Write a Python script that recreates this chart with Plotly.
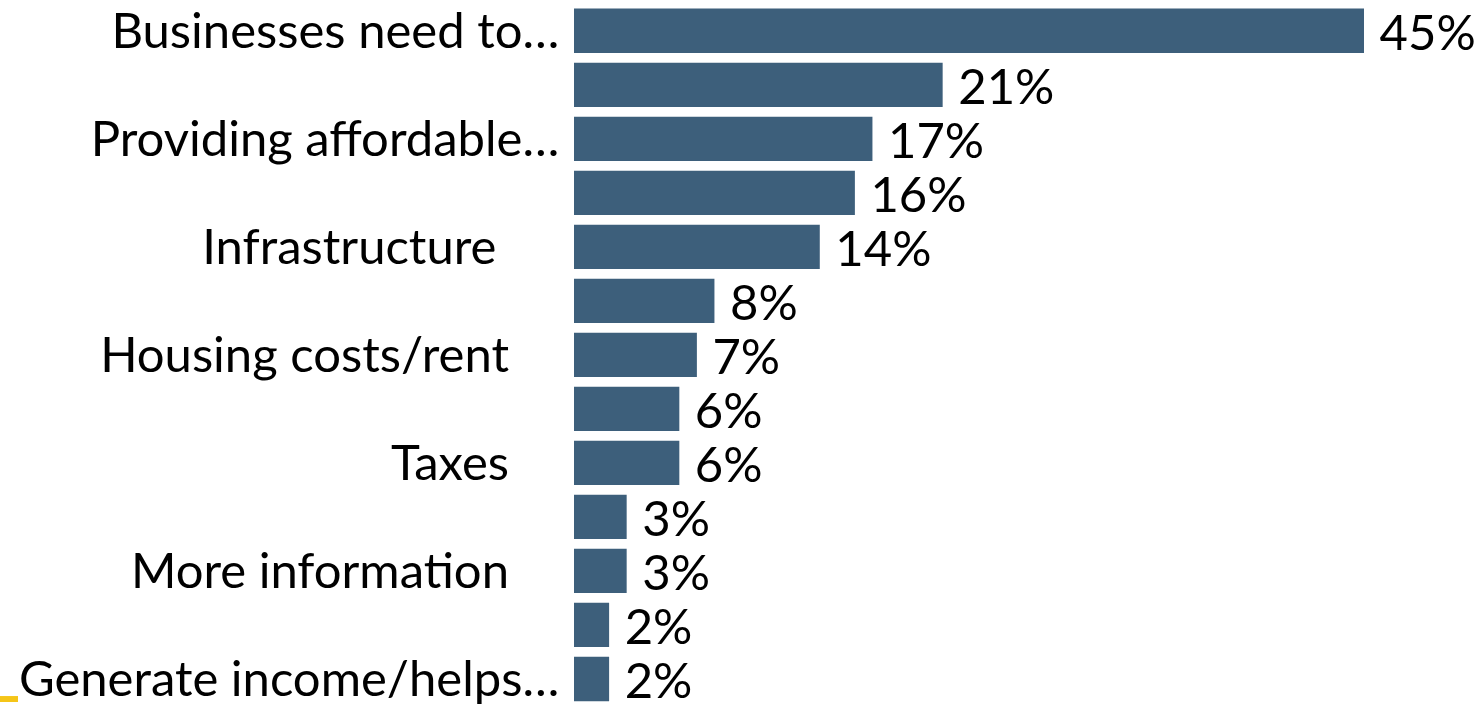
import plotly.graph_objects as go

labels = ["Businesses need to…", "", "Providing affordable…", "", "Infrastructure",
          "", "Housing costs/rent", "", "Taxes", "", "More information", "",
          "Generate income/helps…"]
pad_spaces = [0, 0, 0, 0, 5, 0, 4, 0, 4, 0, 4, 0, 0]
values = [45, 21, 17, 16, 14, 8, 7, 6, 6, 3, 3, 2, 2]
positions = list(range(len(values)))

FONT = "Lato"
fig = go.Figure()
fig.add_trace(go.Bar(
    x=values, y=positions, orientation="h",
    marker=dict(color="#3d5f7b", line=dict(width=0)),
    width=0.82,
    text=[f"\u00a0{v}%" for v in values], textposition="outside",
    constraintext="none",
    textfont=dict(family=FONT, size=49, color="#000000"),
    cliponaxis=False,
))
fig.update_layout(
    width=1476, height=706,
    margin=dict(l=574, r=0, t=0, b=0),
    paper_bgcolor="white", plot_bgcolor="white",
    showlegend=False,
    xaxis=dict(range=[0, 51.38], visible=False),
    yaxis=dict(range=[12.426, -0.551], tickvals=positions,
               ticktext=[l + "\u00a0" * p for l, p in zip(labels, pad_spaces)],
               tickfont=dict(family=FONT, size=49, color="#000000"),
               showgrid=False, zeroline=False, showline=False, ticks="outside",
               ticklen=4, tickcolor="rgba(0,0,0,0)", ticklabeloverflow="allow"),
    shapes=[dict(type="rect", xref="paper", yref="paper",
                 x0=-574/902, x1=-556/902, y0=0, y1=6/706,
                 fillcolor="#f5c518", line=dict(width=0))],
    bargap=0.18,
)
fig.write_html("out.html", config={"displayModeBar": False},
               post_script="document.body.style.margin='0';document.body.style.overflow='hidden';")
